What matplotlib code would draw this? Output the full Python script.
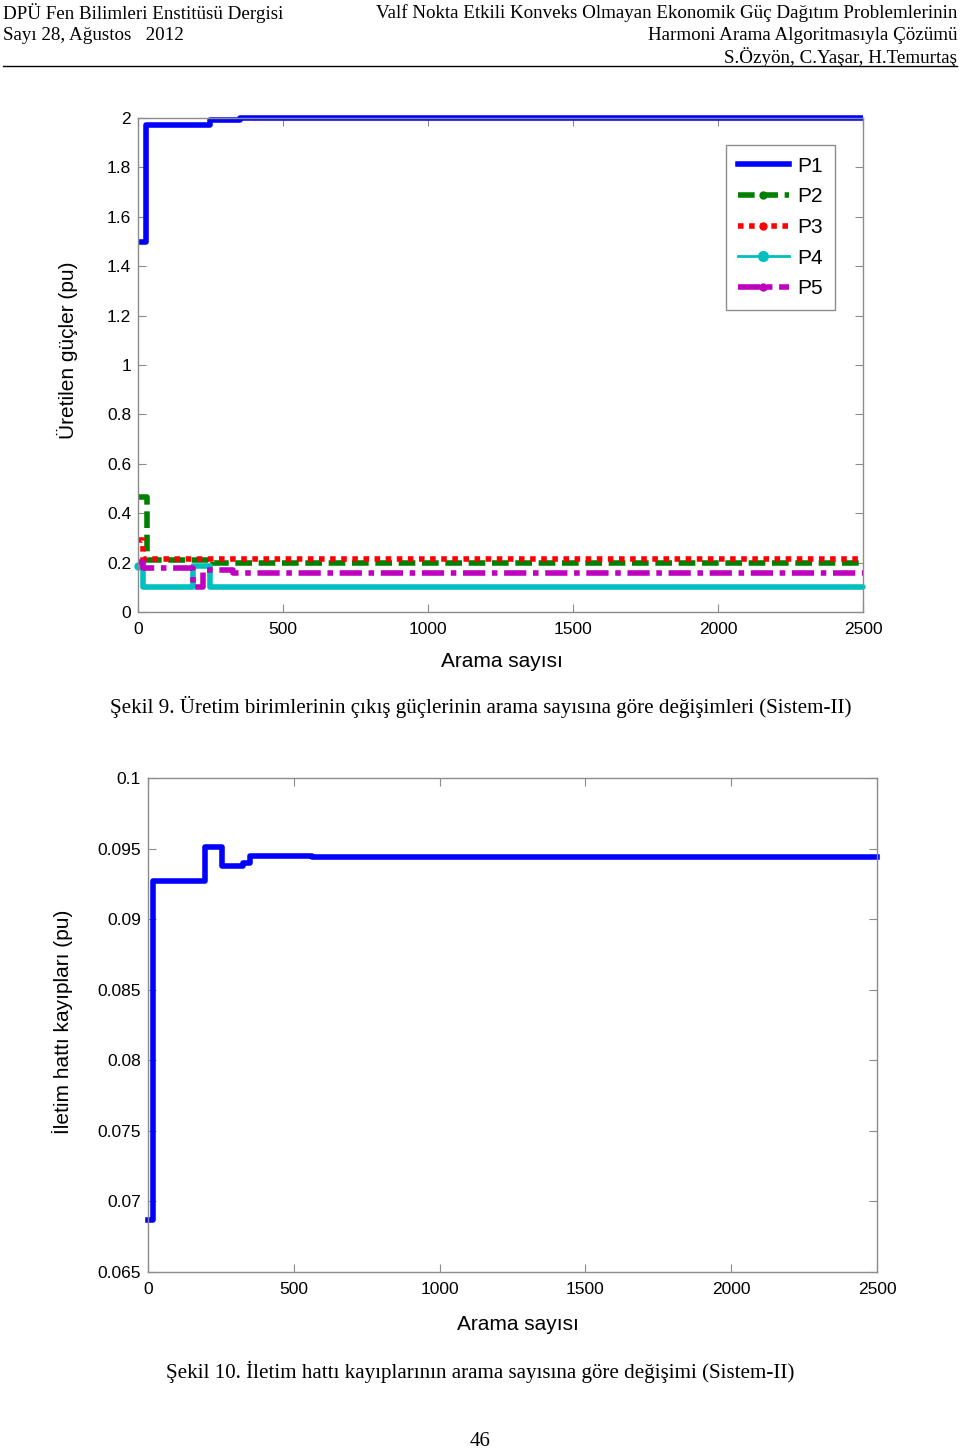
import matplotlib
matplotlib.use("Agg")
import matplotlib.pyplot as plt
from matplotlib.lines import Line2D

plt.rcParams['font.family'] = ['Liberation Sans', 'DejaVu Sans']

# Şekil 9 verileri (adım fonksiyonu: değişim noktaları)
p1_x = [0, 27, 248, 352, 2500]
p1_y = [1.50, 1.97, 1.99, 2.0, 2.0]
p2_x = [0, 30, 259, 2500]
p2_y = [0.467, 0.212, 0.198, 0.198]
p3_x = [0, 17, 2500]
p3_y = [0.29, 0.213, 0.213]
p4_x = [0, 17, 190, 248, 2500]
p4_y = [0.185, 0.102, 0.185, 0.102, 0.102]
p5_x = [0, 17, 190, 225, 328, 2500]
p5_y = [0.204, 0.178, 0.10, 0.17, 0.157, 0.157]

# Şekil 10 verileri
loss_x = [0, 17, 195, 253, 326, 350, 561, 2500]
loss_y = [0.0687, 0.0927, 0.0951, 0.0938, 0.0940, 0.0945, 0.0944, 0.0944]

x_ticks = [0, 500, 1000, 1500, 2000, 2500]
top_yticks = [0, 0.2, 0.4, 0.6, 0.8, 1, 1.2, 1.4, 1.6, 1.8, 2]
top_ylabels = ["0", "0.2", "0.4", "0.6", "0.8", "1", "1.2", "1.4", "1.6", "1.8", "2"]
bot_yticks = [0.065, 0.07, 0.075, 0.08, 0.085, 0.09, 0.095, 0.1]
bot_ylabels = ["0.065", "0.07", "0.075", "0.08", "0.085", "0.09", "0.095", "0.1"]

serif = ['Liberation Serif', 'DejaVu Serif']
spine_c = '#8c8c8c'
lw = 4.0

# her seri için: (ad, x, y, renk, çizgi stili, başta işaret)
series = [
    ('P1', p1_x, p1_y, '#0000ff', '-', False),
    ('P2', p2_x, p2_y, '#008000', (0, (3, 1.2)), False),
    ('P3', p3_x, p3_y, '#ff0000', (0, (1, 1)), False),
    ('P4', p4_x, p4_y, '#00bfbf', '-', True),
    ('P5', p5_x, p5_y, '#bf00bf', (0, (4, 1.2, 1, 1.2)), False),
]

fig = plt.figure(figsize=(9.6, 14.5), dpi=100)


def style_axes(ax):
    for s in ax.spines.values():
        s.set_color(spine_c)
        s.set_linewidth(1.0)
    ax.tick_params(direction='in', length=6, width=0.8, color=spine_c,
                   top=True, right=True, labelsize=12.5, labelcolor='black')
    ax.tick_params(axis='x', pad=7)
    ax.tick_params(axis='y', pad=5)


# ---- üst grafik ----
ax1 = fig.add_axes([138 / 960, 1 - 612 / 1450, 725 / 960, 494 / 1450])
handles = []
for name, xs, ys, c, ls, mark in series:
    ax1.plot(xs, ys, color=c, ls=ls, lw=lw, drawstyle='steps-post', clip_on=False,
             solid_capstyle='round' if mark else 'butt',
             marker='o' if mark else None, markevery=[0], markersize=5)
    # lejantta P4 ince çizgiyle gösteriliyor
    handles.append(Line2D([], [], color=c, ls=ls, lw=2.0 if mark else lw,
                          marker=None if name == 'P1' else 'o',
                          markersize=7 if mark else 5, label=name))
ax1.set_xlim(0, 2500)
ax1.set_ylim(0, 2)
ax1.set_xticks(x_ticks)
ax1.set_xticklabels([str(t) for t in x_ticks])
ax1.set_yticks(top_yticks)
ax1.set_yticklabels(top_ylabels)
style_axes(ax1)
ax1.set_xlabel('Arama sayısı', fontsize=15, va='center')
ax1.xaxis.set_label_coords(0.502, -0.101)
ax1.set_ylabel('Üretilen güçler (pu)', fontsize=15, va='center')
ax1.yaxis.set_label_coords(-0.0966, 0.53)
leg = ax1.legend(handles=handles, loc='upper right', bbox_to_anchor=(0.961, 0.945),
                 fontsize=15, fancybox=False, framealpha=1, edgecolor=spine_c,
                 numpoints=1, handlelength=2.45, handletextpad=0.43,
                 labelspacing=0.56, borderpad=0.55, borderaxespad=0)
leg.get_frame().set_linewidth(1.0)

# ---- alt grafik ----
ax2 = fig.add_axes([148 / 960, 1 - 1272 / 1450, 729 / 960, 494 / 1450])
ax2.plot(loss_x, loss_y, color='#0000ff', lw=lw, drawstyle='steps-post', clip_on=False)
ax2.set_xlim(0, 2500)
ax2.set_ylim(0.065, 0.1)
ax2.set_xticks(x_ticks)
ax2.set_xticklabels([str(t) for t in x_ticks])
ax2.set_yticks(bot_yticks)
ax2.set_yticklabels(bot_ylabels)
style_axes(ax2)
ax2.set_xlabel('Arama sayısı', fontsize=15, va='center')
ax2.xaxis.set_label_coords(0.507, -0.107)
ax2.set_ylabel('İletim hattı kayıpları (pu)', fontsize=15, va='center')
ax2.yaxis.set_label_coords(-0.118, 0.506)


# ---- sayfa metinleri ----
def ft(x, y, s, **k):
    fig.text(x / 960, 1 - y / 1450, s, family=serif, va='center', **k)


ft(3, 13, 'DPÜ Fen Bilimleri Enstitüsü Dergisi', fontsize=13.7, ha='left')
ft(3, 35, 'Sayı 28, Ağustos   2012', fontsize=13.7, ha='left')
ft(957, 13, 'Valf Nokta Etkili Konveks Olmayan Ekonomik Güç Dağıtım Problemlerinin',
   fontsize=13.7, ha='right')
ft(957, 35, 'Harmoni Arama Algoritmasıyla Çözümü', fontsize=13.7, ha='right')
ft(957, 57, 'S.Özyön, C.Yaşar, H.Temurtaş', fontsize=13.7, ha='right')
fig.add_artist(Line2D([3 / 960, 957 / 960], [1 - 66 / 1450, 1 - 66 / 1450],
                      color='black', lw=1.0))

ft(481, 707, 'Şekil 9. Üretim birimlerinin çıkış güçlerinin arama sayısına göre '
   'değişimleri (Sistem-II)', fontsize=15.1, ha='center')
ft(480, 1372, 'Şekil 10. İletim hattı kayıplarının arama sayısına göre değişimi (Sistem-II)',
   fontsize=15.1, ha='center')
ft(480, 1441, '46', fontsize=15, ha='center')

fig.savefig('out.png', dpi=100)
